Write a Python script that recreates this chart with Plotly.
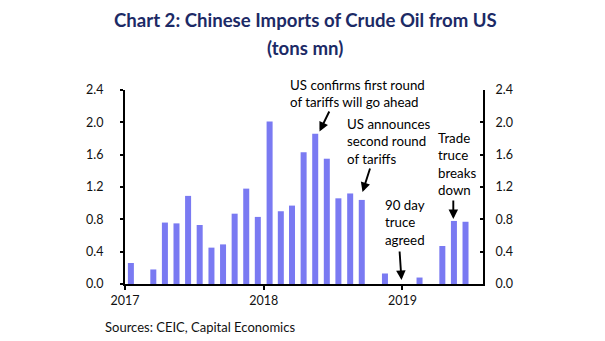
import pandas as pd
import plotly.graph_objects as go

# ---- data ----
months = pd.date_range("2017-01-01", periods=31, freq="MS").strftime("%Y-%m-%d").tolist()
imports = [0.26, 0.0, 0.18, 0.76, 0.75, 1.09, 0.73, 0.45, 0.49, 0.87, 1.18, 0.83,
           2.01, 0.90, 0.97, 1.63, 1.86, 1.55, 1.06, 1.12, 1.04, 0.0, 0.13, 0.0,
           0.0, 0.08, 0.0, 0.47, 0.78, 0.77, None]
year_ticks = ["2017-01-01", "2018-01-01", "2019-01-01"]
year_labels = ["2017", "2018", "2019"]
y_ticks = [0, 0.4, 0.8, 1.2, 1.6, 2.0, 2.4]
y_labels = ["0.0", "0.4", "0.8", "1.2", "1.6", "2.0", "2.4"]
title_lines = ["Chart 2: Chinese Imports of Crude Oil from US", "(tons mn)"]
source_text = "Sources: CEIC, Capital Economics"
notes = [
    ["US confirms first round", "of tariffs will go ahead"],
    ["US announces", "second round", "of tariffs"],
    ["90 day", "truce", "agreed"],
    ["Trade", "truce", "breaks", "down"],
]

# ---- geometry helpers (pixels -> paper) ----
W, H = 605, 341
ML, MR, MT, MB = 125, 122, 90, 57
PW, PH = W - ML - MR, H - MT - MB


def px(x):
    return (x - ML) / PW


def py(y):
    return (H - MB - y) / PH


FONT = "Lato"
NAVY = "#1c2a66"

fig = go.Figure()
fig.add_trace(go.Bar(
    x=months, y=imports, xperiod="M1", xperiodalignment="middle",
    width=0.52 * 30.4 * 86400000,
    marker=dict(color="#7a7af2", line=dict(width=0)),
    showlegend=False,
))
# invisible companion trace so the right-hand axis is drawn
fig.add_trace(go.Scatter(
    x=months, y=imports, yaxis="y2", mode="lines", line=dict(width=0),
    opacity=0, hoverinfo="skip", showlegend=False,
))

annotations = []
# title
for txt, yy in zip(title_lines, [20.5, 48]):
    annotations.append(dict(text=f"<b>{txt}</b>", xref="paper", yref="paper",
                            x=px(305), y=py(yy), xanchor="center", yanchor="middle",
                            showarrow=False, font=dict(family=FONT, size=18.6, color=NAVY)))
# source
annotations.append(dict(text=source_text, xref="paper", yref="paper", x=px(103), y=py(327),
                        xanchor="left", yanchor="middle", showarrow=False,
                        font=dict(family=FONT, size=13, color="#111111")))

# note text blocks: (left x, vertical centre y)
text_pos = [(289, 93.5), (346, 141.5), (384, 222.5), (437, 164.3)]
for lines, (lx, cy) in zip(notes, text_pos):
    annotations.append(dict(text="<br>".join(lines), xref="paper", yref="paper",
                            x=px(lx), y=py(cy), xanchor="left", yanchor="middle",
                            align="left", showarrow=False, borderpad=0,
                            font=dict(family=FONT, size=13.3, color="#000000")))

# arrows: head (px), tail (px)
arrows = [((319.5, 131.5), (330, 110)), ((362.5, 192), (370.5, 167)),
          ((401.5, 280), (399.5, 250)), ((453.3, 219), (453.3, 199))]
for (hx, hy), (tx, ty) in arrows:
    annotations.append(dict(text="", xref="paper", yref="paper", x=px(hx), y=py(hy),
                            ax=tx - hx, ay=ty - hy, showarrow=True, arrowhead=2,
                            arrowsize=1.0, arrowwidth=1.9, arrowcolor="#000000"))

axis_font = dict(family=FONT, size=12.5, color="#111111")
fig.update_layout(
    width=W, height=H,
    margin=dict(l=ML, r=MR, t=MT, b=MB),
    paper_bgcolor="white", plot_bgcolor="white",
    bargap=0.48,
    xaxis=dict(type="date", range=["2017-01-01", "2019-08-01"],
               tickmode="array", tickvals=year_ticks, ticktext=year_labels,
               ticks="outside", ticklen=4, tickwidth=1.5, tickcolor="black",
               showline=True, linecolor="black", linewidth=2, showgrid=False,
               zeroline=False, tickfont=axis_font),
    yaxis=dict(range=[0, 2.4], tickmode="array", tickvals=y_ticks, ticktext=y_labels,
               ticks="outside", ticklen=3, tickwidth=1.5, tickcolor="black",
               showline=True, linecolor="black", linewidth=2, showgrid=False,
               zeroline=False, tickfont=axis_font, ticklabelstandoff=14),
    yaxis2=dict(range=[0, 2.4], overlaying="y", side="right",
                tickmode="array", tickvals=y_ticks, ticktext=y_labels,
                ticks="inside", ticklen=3, tickwidth=1.5, tickcolor="black",
                showline=True, linecolor="black", linewidth=2, showgrid=False,
                zeroline=False, tickfont=axis_font, ticklabelstandoff=8),
    annotations=annotations,
    showlegend=False,
)

fig.write_html("out.html")
